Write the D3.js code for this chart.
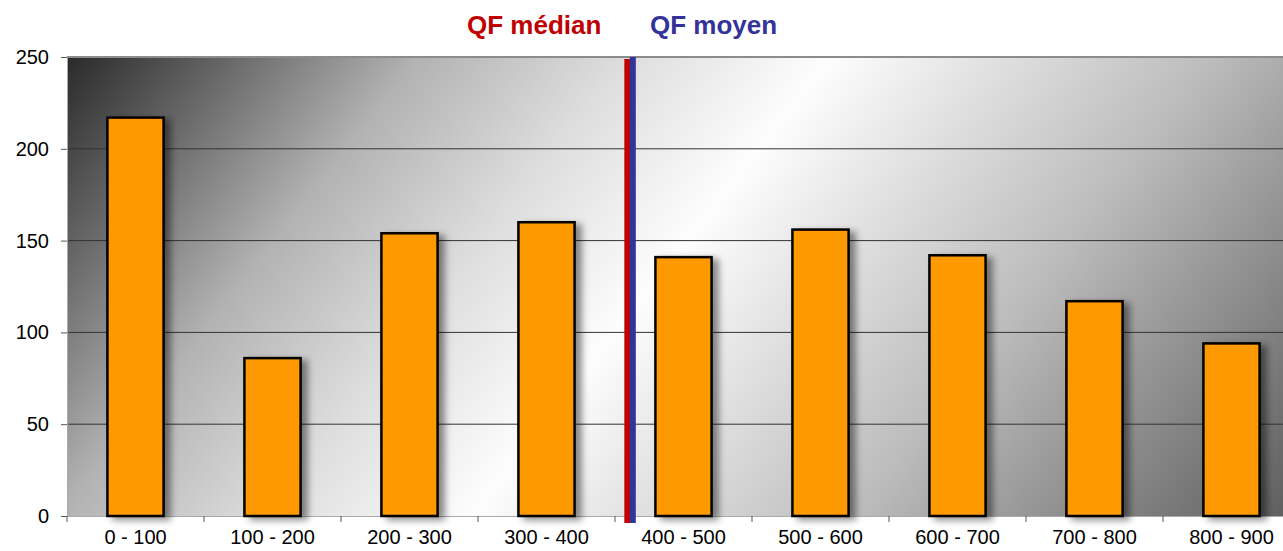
<!DOCTYPE html>
<html>
<head>
<meta charset="utf-8">
<script src="https://cdn.jsdelivr.net/npm/d3@7"></script>
<style>
  body { margin: 0; background: #fff; overflow: hidden; }
  text { font-family: Arial, "Liberation Sans", sans-serif; }
</style>
</head>
<body>
<svg id="chart" width="1283" height="551"></svg>
<script>
// data
var categories = ['0 - 100', '100 - 200', '200 - 300', '300 - 400', '400 - 500',
                  '500 - 600', '600 - 700', '700 - 800', '800 - 900'];
var counts = [217, 86, 154, 160, 141, 156, 142, 117, 94];
var yTicks = [0, 50, 100, 150, 200, 250];
var qfMedian = 409;
var qfMoyen = 413;

var svg = d3.select('#chart'),
    plotLeft = 67, plotTop = 57, plotBottom = 516,
    bandW = 137,
    plotRight = plotLeft + bandW * categories.length;

var x = d3.scaleBand().domain(categories).range([plotLeft, plotRight]).paddingInner(0.59).paddingOuter(0.295);
var xv = d3.scaleLinear().domain([0, 900]).range([plotLeft, plotRight]);
var y = d3.scaleLinear().domain([0, 250]).range([plotBottom, plotTop]);

var defs = svg.append('defs');
// diagonal fill: dark corner top-left, white band, darker again bottom-right
var grad = defs.append('linearGradient')
    .attr('id', 'bg')
    .attr('gradientUnits', 'userSpaceOnUse')
    .attr('x1', plotLeft).attr('y1', plotTop)
    .attr('x2', 1053).attr('y2', 830);
[[0, '#2a2a2a'], [0.1, '#666666'], [0.22, '#b2b2b2'], [0.35, '#dddddd'],
 [0.48, '#fdfdfd'], [0.6, '#dcdcdc'], [0.72, '#bcbcbc'], [0.82, '#999999'],
 [1, '#5c5c5c']].forEach(s => {
    grad.append('stop').attr('offset', s[0]).attr('stop-color', s[1]);
});

var shadow = defs.append('filter').attr('id', 'shadow')
    .attr('x', '-20%').attr('y', '-20%').attr('width', '160%').attr('height', '140%');
shadow.append('feGaussianBlur').attr('in', 'SourceAlpha').attr('stdDeviation', 3.5).attr('result', 'b');
shadow.append('feOffset').attr('in', 'b').attr('dx', 6).attr('dy', 3).attr('result', 'o');
shadow.append('feComponentTransfer').attr('in', 'o').attr('result', 'o2')
    .append('feFuncA').attr('type', 'linear').attr('slope', 0.45);
var merge = shadow.append('feMerge');
merge.append('feMergeNode').attr('in', 'o2');
merge.append('feMergeNode').attr('in', 'SourceGraphic');

// plot background
svg.append('rect')
    .attr('x', plotLeft).attr('y', plotTop)
    .attr('width', plotRight - plotLeft).attr('height', plotBottom - plotTop)
    .attr('fill', 'url(#bg)');

svg.append('line')
    .attr('x1', plotLeft).attr('x2', plotRight)
    .attr('y1', plotTop).attr('y2', plotTop)
    .attr('stroke', '#8c8c8c').attr('stroke-width', 2);

// gridlines
svg.append('g').selectAll('line')
    .data(yTicks.filter(d => d > 0 && d < 250))
    .enter().append('line')
    .attr('x1', plotLeft).attr('x2', plotRight)
    .attr('y1', d => y(d)).attr('y2', d => y(d))
    .attr('stroke', '#333').attr('stroke-width', 1);

// y axis
var yAxis = svg.append('g')
    .attr('transform', 'translate(' + plotLeft + ',0)')
    .call(d3.axisLeft(y).tickValues(yTicks).tickSize(6).tickPadding(12));
yAxis.select('.domain').attr('stroke', '#aaa');
yAxis.selectAll('.tick line').attr('stroke', '#555');
yAxis.selectAll('text').attr('font-size', 20).attr('fill', '#000')
    .style('font-family', 'Arial, "Liberation Sans", sans-serif');

// x axis
var xAxis = svg.append('g')
    .attr('transform', 'translate(0,' + plotBottom + ')')
    .call(d3.axisBottom(x).tickSize(0).tickPadding(14));
xAxis.select('.domain').attr('stroke', '#aaa');
xAxis.selectAll('text').attr('font-size', 20).attr('fill', '#000')
    .style('font-family', 'Arial, "Liberation Sans", sans-serif');
svg.append('g').selectAll('line')
    .data(d3.range(categories.length + 1))
    .enter().append('line')
    .attr('x1', d => plotLeft + d * bandW).attr('x2', d => plotLeft + d * bandW)
    .attr('y1', plotBottom).attr('y2', plotBottom + 6)
    .attr('stroke', '#555');

// bars
svg.append('g').selectAll('rect')
    .data(counts)
    .enter().append('rect')
    .attr('x', (d, i) => x(categories[i]))
    .attr('y', d => y(d))
    .attr('width', x.bandwidth())
    .attr('height', d => plotBottom - y(d))
    .attr('fill', '#ff9900')
    .attr('stroke', '#000')
    .attr('stroke-width', 2.5)
    .attr('filter', 'url(#shadow)');

// median / mean lines
svg.append('rect')
    .attr('x', xv(qfMedian) - 3).attr('y', plotTop + 2)
    .attr('width', 6).attr('height', plotBottom + 7 - plotTop - 2)
    .attr('fill', '#c00000');
svg.append('rect')
    .attr('x', xv(qfMoyen) - 3).attr('y', plotTop)
    .attr('width', 6).attr('height', plotBottom + 7 - plotTop)
    .attr('fill', '#333399');

// legend
svg.append('text')
    .attr('x', 467).attr('y', 34)
    .attr('font-size', 26).attr('font-weight', 'bold')
    .attr('fill', '#c00000')
    .text('QF médian');
svg.append('text')
    .attr('x', 650).attr('y', 34)
    .attr('font-size', 26).attr('font-weight', 'bold')
    .attr('fill', '#333399')
    .text('QF moyen');
</script>
</body>
</html>
